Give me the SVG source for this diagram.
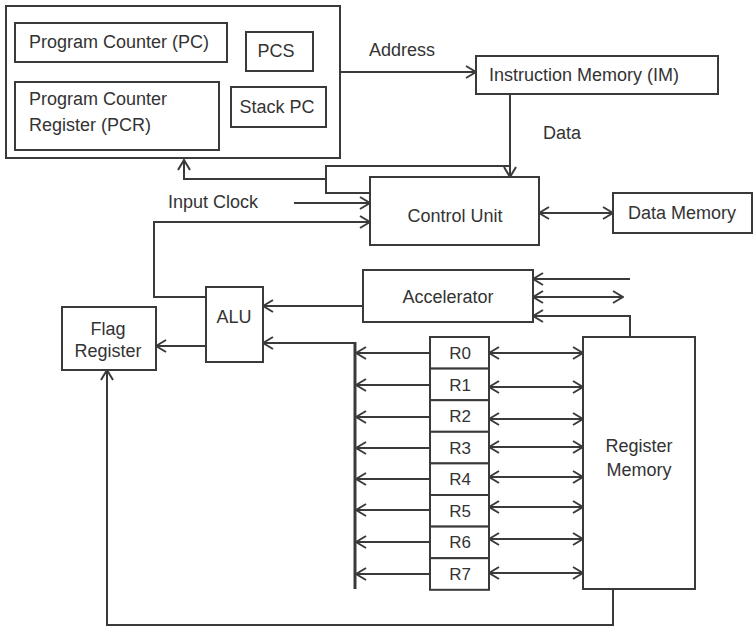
<svg xmlns="http://www.w3.org/2000/svg" width="754" height="628" viewBox="0 0 754 628">
<defs>
<style>
.box{fill:#fff;stroke:#3a3a3a;stroke-width:2}
.ln{fill:none;stroke:#3a3a3a;stroke-width:2}
.bus{fill:none;stroke:#3a3a3a;stroke-width:3}
text{font-family:"Liberation Sans",Arial,sans-serif;font-size:18px;fill:#333}
.c{text-anchor:middle}
.r{font-size:17px}
</style>
<marker id="ah" viewBox="0 0 12 14" refX="11" refY="7" markerWidth="12" markerHeight="14" markerUnits="userSpaceOnUse" orient="auto-start-reverse">
<path d="M1,1 L11,7 L1,13" fill="none" stroke="#3a3a3a" stroke-width="2"/>
</marker>
</defs>
<rect width="754" height="628" fill="#fff"/>

<g id="connectors">
<line class="ln" x1="340" y1="72" x2="476" y2="72" marker-end="url(#ah)"/>
<line class="ln" x1="510" y1="94" x2="510" y2="177" marker-end="url(#ah)"/>
<polyline class="ln" points="510,166 326,166 326,193 370,193"/>
<polyline class="ln" points="326,179 184,179 184,160" marker-end="url(#ah)"/>
<line class="ln" x1="294" y1="203" x2="370" y2="203" marker-end="url(#ah)"/>
<polyline class="ln" points="206,297 154,297 154,222 370,222" marker-end="url(#ah)"/>
<line class="ln" x1="539" y1="213" x2="613" y2="213" marker-start="url(#ah)" marker-end="url(#ah)"/>
<line class="ln" x1="363" y1="306" x2="263" y2="306" marker-end="url(#ah)"/>
<line class="ln" x1="630" y1="279" x2="533" y2="279" marker-end="url(#ah)"/>
<line class="ln" x1="533" y1="297" x2="623" y2="297" marker-start="url(#ah)" marker-end="url(#ah)"/>
<polyline class="ln" points="630,337 630,316 533,316" marker-end="url(#ah)"/>
<polyline class="ln" points="355,343 263,343" marker-end="url(#ah)"/>
<line class="bus" x1="355" y1="342" x2="355" y2="589"/>
<line class="ln" x1="206" y1="346" x2="156" y2="346" marker-end="url(#ah)"/>
<polyline class="ln" points="613,589 613,625 107,625 107,370" marker-end="url(#ah)"/>
<line class="ln" x1="430" y1="353" x2="356" y2="353" marker-end="url(#ah)"/>
<line class="ln" x1="430" y1="385" x2="356" y2="385" marker-end="url(#ah)"/>
<line class="ln" x1="430" y1="417" x2="356" y2="417" marker-end="url(#ah)"/>
<line class="ln" x1="430" y1="448" x2="356" y2="448" marker-end="url(#ah)"/>
<line class="ln" x1="430" y1="479" x2="356" y2="479" marker-end="url(#ah)"/>
<line class="ln" x1="430" y1="510" x2="356" y2="510" marker-end="url(#ah)"/>
<line class="ln" x1="430" y1="542" x2="356" y2="542" marker-end="url(#ah)"/>
<line class="ln" x1="430" y1="574" x2="356" y2="574" marker-end="url(#ah)"/>
<line class="ln" x1="489" y1="353" x2="583" y2="353" marker-start="url(#ah)" marker-end="url(#ah)"/>
<line class="ln" x1="489" y1="387" x2="583" y2="387" marker-start="url(#ah)" marker-end="url(#ah)"/>
<line class="ln" x1="489" y1="419" x2="583" y2="419" marker-start="url(#ah)" marker-end="url(#ah)"/>
<line class="ln" x1="489" y1="447" x2="583" y2="447" marker-start="url(#ah)" marker-end="url(#ah)"/>
<line class="ln" x1="489" y1="477" x2="583" y2="477" marker-start="url(#ah)" marker-end="url(#ah)"/>
<line class="ln" x1="489" y1="507" x2="583" y2="507" marker-start="url(#ah)" marker-end="url(#ah)"/>
<line class="ln" x1="489" y1="539" x2="583" y2="539" marker-start="url(#ah)" marker-end="url(#ah)"/>
<line class="ln" x1="489" y1="573" x2="583" y2="573" marker-start="url(#ah)" marker-end="url(#ah)"/>
</g>

<g id="labels">
<text x="369" y="56">Address</text>
<text x="543" y="139">Data</text>
<text x="168" y="208">Input Clock</text>
</g>

<g id="pc-block">
<rect class="box" x="6" y="6" width="334" height="152"/>
</g>
<g id="pc">
<rect class="box" x="15" y="23" width="212" height="39"/>
<text x="29" y="48">Program Counter (PC)</text>
</g>
<g id="pcs">
<rect class="box" x="246" y="32" width="67" height="39"/>
<text class="c" x="276" y="57">PCS</text>
</g>
<g id="pcr">
<rect class="box" x="15" y="82" width="204" height="68"/>
<text x="29" y="105">Program Counter</text>
<text x="29" y="131">Register (PCR)</text>
</g>
<g id="stack-pc">
<rect class="box" x="231" y="87" width="95" height="40"/>
<text class="c" x="277" y="113">Stack PC</text>
</g>
<g id="instruction-memory">
<rect class="box" x="476" y="56" width="242" height="38"/>
<text x="489" y="81">Instruction Memory (IM)</text>
</g>
<g id="control-unit">
<rect class="box" x="370" y="177" width="169" height="68"/>
<text class="c" x="455" y="222">Control Unit</text>
</g>
<g id="data-memory">
<rect class="box" x="613" y="193" width="139" height="40"/>
<text class="c" x="682" y="219">Data Memory</text>
</g>
<g id="accelerator">
<rect class="box" x="363" y="270" width="170" height="52"/>
<text class="c" x="448" y="303">Accelerator</text>
</g>
<g id="alu">
<rect class="box" x="206" y="287" width="57" height="75"/>
<text class="c" x="234" y="323">ALU</text>
</g>
<g id="flag-register">
<rect class="box" x="62" y="307" width="94" height="63"/>
<text class="c" x="108" y="335">Flag</text>
<text class="c" x="108" y="357">Register</text>
</g>
<g id="register-memory">
<rect class="box" x="583" y="337" width="112" height="252"/>
<text class="c" x="639" y="452">Register</text>
<text class="c" x="639" y="476">Memory</text>
</g>
<g id="r0"><rect class="box" x="430" y="337" width="59" height="31.6"/><text class="c r" x="460" y="359">R0</text></g>
<g id="r1"><rect class="box" x="430" y="368.6" width="59" height="31.6"/><text class="c r" x="460" y="391">R1</text></g>
<g id="r2"><rect class="box" x="430" y="400.2" width="59" height="31.6"/><text class="c r" x="460" y="422">R2</text></g>
<g id="r3"><rect class="box" x="430" y="431.8" width="59" height="31.6"/><text class="c r" x="460" y="454">R3</text></g>
<g id="r4"><rect class="box" x="430" y="463.4" width="59" height="31.6"/><text class="c r" x="460" y="485">R4</text></g>
<g id="r5"><rect class="box" x="430" y="495" width="59" height="31.6"/><text class="c r" x="460" y="517">R5</text></g>
<g id="r6"><rect class="box" x="430" y="526.6" width="59" height="31.6"/><text class="c r" x="460" y="548">R6</text></g>
<g id="r7"><rect class="box" x="430" y="558.2" width="59" height="31.6"/><text class="c r" x="460" y="580">R7</text></g>
</svg>
